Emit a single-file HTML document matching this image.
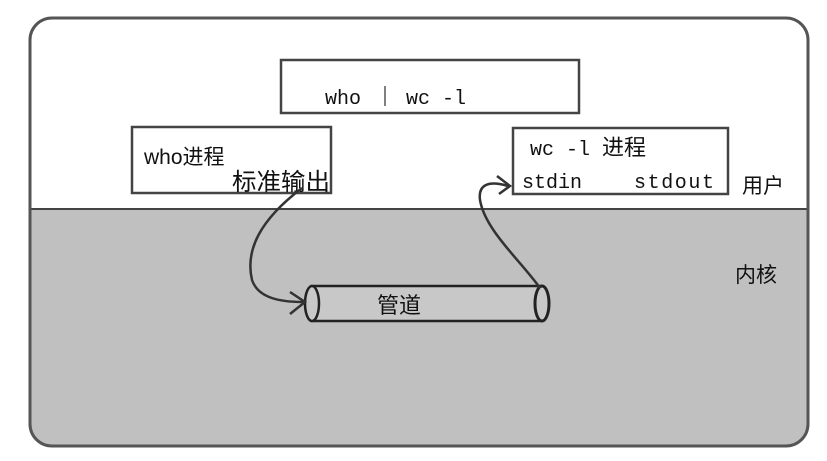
<!DOCTYPE html>
<html><head><meta charset="utf-8"><style>
html,body{margin:0;padding:0;background:#fff;width:827px;height:461px;overflow:hidden}
text{font-family:"Liberation Mono","Noto Serif CJK SC","Noto Sans CJK SC",monospace;fill:#111}
.c{font-family:"Liberation Sans","Noto Sans CJK SC",sans-serif}
</style></head><body>
<svg width="827" height="461" viewBox="0 0 827 461" xmlns="http://www.w3.org/2000/svg">
<defs><clipPath id="cl"><rect x="30" y="18" width="778" height="428" rx="22"/></clipPath></defs>
<g clip-path="url(#cl)">
<rect x="30" y="18" width="778" height="428" fill="#fff"/>
<rect x="30" y="209" width="778" height="240" fill="#c0c0c0"/>
</g>
<line x1="30" y1="209" x2="808" y2="209" stroke="#444" stroke-width="2"/>
<rect x="30" y="18" width="778" height="428" rx="22" fill="none" stroke="#555" stroke-width="3"/>
<rect x="281" y="60" width="298" height="53" fill="#fff" stroke="#444" stroke-width="2.5"/>
<text x="325" y="104" font-size="20">who</text>
<line x1="385" y1="86" x2="385" y2="106" stroke="#555" stroke-width="1.5"/>
<text x="406" y="104" font-size="20">wc -l</text>
<rect x="132" y="127" width="199" height="66" fill="#fff" stroke="#444" stroke-width="2.5"/>
<text x="144" y="164" font-size="21" class="c">who进程</text>
<text x="232" y="190" font-size="24" class="c" textLength="98" lengthAdjust="spacingAndGlyphs">标准输出</text>
<rect x="513" y="128" width="215" height="66" fill="#fff" stroke="#444" stroke-width="2.5"/>
<text x="530" y="155" font-size="20">wc -l <tspan class="c" font-size="22">进程</tspan></text>
<text x="522" y="188" font-size="20">stdin</text>
<text x="634" y="188" font-size="20" textLength="80">stdout</text>
<text x="742" y="193" font-size="21" class="c">用户</text>
<text x="735" y="282" font-size="21" class="c">内核</text>
<rect x="312" y="286" width="230" height="35" fill="#c8c8c8" stroke="#222" stroke-width="2.5"/>
<ellipse cx="312" cy="303.5" rx="7" ry="17.5" fill="#c8c8c8" stroke="#222" stroke-width="2.5"/>
<ellipse cx="542" cy="303.5" rx="7" ry="17.5" fill="#c8c8c8" stroke="#222" stroke-width="3"/>
<text x="377" y="313" font-size="22" class="c">管道</text>
<path d="M302 188 C 260 220, 245 250, 252 280 C 258 298, 280 302, 303 302" fill="none" stroke="#333" stroke-width="2.5"/>
<path d="M290 292 L305 302 L290 314" fill="none" stroke="#333" stroke-width="2.5"/>
<path d="M540 288 C 520 260, 485 230, 480 200 C 478 185, 488 180, 508 186" fill="none" stroke="#333" stroke-width="2.5"/>
<path d="M497 176 L510 186 L499 194" fill="none" stroke="#333" stroke-width="2.5"/>
</svg>
</body></html>
